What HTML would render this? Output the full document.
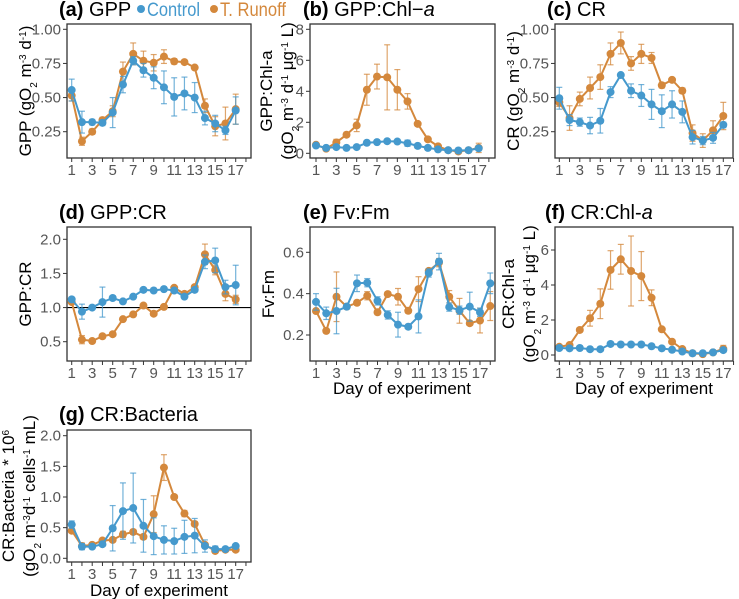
<!DOCTYPE html>
<html><head><meta charset="utf-8">
<style>
html,body{margin:0;padding:0;background:#fff;}
svg{display:block;font-family:"Liberation Sans",Arial,sans-serif;}
.tick{font-size:15px;fill:#555;}
.ttl{font-size:20px;fill:#000;}
.leg{font-size:19px;}
.ax{font-size:17px;fill:#000;}
</style></head>
<body>
<svg id="fig" width="739" height="599" viewBox="0 0 739 599" xmlns="http://www.w3.org/2000/svg">
<g>
<text class="ttl" x="59" y="16"><tspan font-weight="bold">(a)</tspan> GPP</text>
<circle cx="141" cy="9" r="4" fill="#4599cd"/>
<text class="leg" x="147" y="16" textLength="53" lengthAdjust="spacingAndGlyphs" style="fill:#4599cd">Control</text>
<circle cx="214" cy="9" r="4" fill="#d4883c"/>
<text class="leg" x="220" y="16" textLength="66" lengthAdjust="spacingAndGlyphs" style="fill:#d4883c">T. Runoff</text>
<text class="ttl" x="303" y="16"><tspan font-weight="bold">(b)</tspan> GPP:Chl−<tspan font-style="italic">a</tspan></text>
<text class="ttl" x="547" y="16"><tspan font-weight="bold">(c)</tspan> CR</text>
<text class="ttl" x="59" y="219"><tspan font-weight="bold">(d)</tspan> GPP:CR</text>
<text class="ttl" x="303" y="219"><tspan font-weight="bold">(e)</tspan> Fv:Fm</text>
<text class="ttl" x="545" y="219"><tspan font-weight="bold">(f)</tspan> CR:Chl-<tspan font-style="italic">a</tspan></text>
<text class="ttl" x="59" y="421"><tspan font-weight="bold">(g)</tspan> CR:Bacteria</text>
</g>
<g>
<text class="ax" text-anchor="middle" transform="translate(31,91) rotate(-90)">GPP (gO<tspan baseline-shift="sub" font-size="10">2</tspan> m<tspan baseline-shift="super" font-size="10">-3</tspan> d<tspan baseline-shift="super" font-size="10">-1</tspan>)</text>
<text class="ax" text-anchor="middle" transform="translate(272,91) rotate(-90)">GPP:Chl-a</text>
<text class="ax" text-anchor="middle" transform="translate(293,91) rotate(-90)">(gO<tspan baseline-shift="sub" font-size="10">2</tspan> m<tspan baseline-shift="super" font-size="10">-3</tspan> d<tspan baseline-shift="super" font-size="10">-1</tspan> μg<tspan baseline-shift="super" font-size="10">-1</tspan> L)</text>
<text class="ax" text-anchor="middle" transform="translate(519,91) rotate(-90)">CR (gO<tspan baseline-shift="sub" font-size="10">2</tspan> m<tspan baseline-shift="super" font-size="10">-3</tspan> d<tspan baseline-shift="super" font-size="10">-1</tspan>)</text>
<text class="ax" text-anchor="middle" transform="translate(31,294) rotate(-90)">GPP:CR</text>
<text class="ax" text-anchor="middle" transform="translate(274,294) rotate(-90)">Fv:Fm</text>
<text class="ax" text-anchor="middle" transform="translate(514,294) rotate(-90)">CR:Chl-a</text>
<text class="ax" text-anchor="middle" transform="translate(535,294) rotate(-90)">(gO<tspan baseline-shift="sub" font-size="10">2</tspan> m<tspan baseline-shift="super" font-size="10">-3</tspan> d<tspan baseline-shift="super" font-size="10">-1</tspan> μg<tspan baseline-shift="super" font-size="10">-1</tspan> L)</text>
<text class="ax" text-anchor="middle" transform="translate(14,496) rotate(-90)">CR:Bacteria * 10<tspan baseline-shift="super" font-size="10">6</tspan></text>
<text class="ax" text-anchor="middle" transform="translate(35,496) rotate(-90)">(gO<tspan baseline-shift="sub" font-size="10">2</tspan> m<tspan baseline-shift="super" font-size="10">-3</tspan>d<tspan baseline-shift="super" font-size="10">-1</tspan> cells<tspan baseline-shift="super" font-size="10">-1</tspan> mL)</text>
<text class="ax" text-anchor="middle" x="402" y="394">Day of experiment</text>
<text class="ax" text-anchor="middle" x="644" y="394">Day of experiment</text>
<text class="ax" text-anchor="middle" x="159" y="596">Day of experiment</text>
</g>
</svg>
<script>
const xLabels=[1,3,5,7,9,11,13,15,17];
const aCtl=[0.555,0.32,0.32,0.315,0.39,0.595,0.77,0.70,0.645,0.575,0.505,0.53,0.50,0.35,0.31,0.26,0.405];
const aCtlErr=[0.08,0.08,0.02,0.02,0.11,0.06,0.03,0.05,0.08,0.12,0.14,0.12,0.11,0.05,0.06,0.03,0.1];
const aRun=[0.515,0.18,0.25,0.335,0.40,0.69,0.82,0.77,0.755,0.80,0.765,0.76,0.72,0.44,0.29,0.31,0.415];
const aRunErr=[0.04,0.03,0.02,0.02,0.04,0.07,0.08,0.07,0.06,0.05,0.02,0.01,0.01,0.05,0.07,0.12,0.11];
const aTicks=[0.25,0.5,0.75,1.0];
const aTickLbl=["0.25","0.50","0.75","1.00"];
const bCtl=[0.5,0.35,0.4,0.35,0.4,0.68,0.72,0.78,0.76,0.65,0.48,0.35,0.25,0.2,0.18,0.2,0.32];
const bCtlErr=[0.1,0.05,0.1,0.05,0.05,0.1,0.1,0.1,0.1,0.2,0.15,0.1,0.05,0.05,0.05,0.05,0.1];
const bRun=[0.55,0.3,0.7,1.2,1.8,4.1,4.95,4.9,4.1,3.35,1.9,0.9,0.45,0.2,0.12,0.2,0.35];
const bRunErr=[0.1,0.1,0.2,0.15,0.4,1.0,0.8,2.1,1.3,0.5,0.1,0.1,0.1,0.05,0.05,0.05,0.3];
const bTicks=[0,2,4,6,8];
const bTickLbl=["0","2","4","6","8"];
const cCtl=[0.495,0.335,0.32,0.295,0.33,0.54,0.665,0.55,0.515,0.45,0.40,0.45,0.395,0.21,0.185,0.205,0.30];
const cCtlErr=[0.08,0.04,0.03,0.06,0.09,0.04,0.01,0.05,0.08,0.11,0.12,0.1,0.08,0.05,0.03,0.04,0.02];
const cRun=[0.465,0.35,0.49,0.57,0.65,0.82,0.90,0.75,0.82,0.79,0.59,0.63,0.55,0.24,0.185,0.26,0.365];
const cRunErr=[0.03,0.09,0.05,0.08,0.09,0.08,0.08,0.05,0.07,0.04,0.02,0.01,0.02,0.06,0.05,0.07,0.1];
const cTicks=[0.25,0.5,0.75,1.0];
const cTickLbl=["0.25","0.50","0.75","1.00"];
const dCtl=[1.12,0.94,1.0,1.08,1.14,1.09,1.16,1.26,1.25,1.27,1.25,1.16,1.26,1.67,1.69,1.30,1.33];
const dCtlErr=[0.03,0.11,0.02,0.22,0.03,0.02,0.02,0.02,0.02,0.02,0.02,0.02,0.02,0.1,0.18,0.1,0.29];
const dRun=[1.08,0.53,0.51,0.58,0.61,0.83,0.90,1.03,0.91,1.01,1.29,1.20,1.30,1.78,1.55,1.20,1.12];
const dRunErr=[0.02,0.06,0.03,0.02,0.02,0.02,0.02,0.02,0.02,0.02,0.02,0.02,0.02,0.15,0.07,0.1,0.06];
const dTicks=[0.5,1.0,1.5,2.0];
const dTickLbl=["0.5","1.0","1.5","2.0"];
const eCtl=[0.36,0.305,0.316,0.337,0.45,0.453,0.365,0.297,0.25,0.24,0.29,0.50,0.555,0.335,0.32,0.337,0.31,0.45];
const eCtlErr=[0.04,0.03,0.11,0.01,0.04,0.02,0.02,0.02,0.06,0.01,0.08,0.02,0.04,0.02,0.02,0.07,0.02,0.05];
const eRun=[0.316,0.22,0.385,0.337,0.356,0.39,0.31,0.398,0.385,0.317,0.422,0.51,0.55,0.385,0.317,0.257,0.27,0.34];
const eRunErr=[0.01,0.01,0.12,0.01,0.01,0.02,0.01,0.01,0.04,0.01,0.06,0.01,0.02,0.03,0.06,0.01,0.06,0.07];
const eTicks=[0.2,0.4,0.6];
const eTickLbl=["0.2","0.4","0.6"];
const fCtl=[0.4,0.38,0.4,0.33,0.33,0.63,0.6,0.6,0.6,0.5,0.38,0.3,0.2,0.1,0.1,0.15,0.28];
const fCtlErr=[0.1,0.05,0.1,0.05,0.05,0.05,0.05,0.05,0.1,0.1,0.1,0.05,0.05,0.05,0.05,0.05,0.1];
const fRun=[0.47,0.57,1.43,2.1,2.93,4.86,5.47,4.8,4.51,3.27,1.47,0.76,0.34,0.1,0.05,0.15,0.35];
const fRunErr=[0.05,0.05,0.1,0.45,0.85,1.1,0.85,2.0,1.4,0.45,0.1,0.05,0.05,0.05,0.05,0.05,0.2];
const fTicks=[0,2,4,6];
const fTickLbl=["0","2","4","6"];
const gCtl=[0.55,0.19,0.19,0.23,0.49,0.77,0.82,0.53,0.36,0.30,0.28,0.35,0.37,0.20,0.15,0.15,0.20];
const gCtlErr=[0.06,0.05,0.03,0.02,0.37,0.46,0.57,0.43,0.3,0.23,0.21,0.27,0.28,0.1,0.05,0.03,0.03];
const gRun=[0.45,0.20,0.22,0.29,0.30,0.39,0.43,0.35,0.72,1.48,1.00,0.73,0.56,0.22,0.12,0.14,0.14];
const gRunErr=[0.03,0.05,0.03,0.02,0.03,0.05,0.04,0.04,0.3,0.21,0.03,0.05,0.04,0.03,0.03,0.02,0.02];
const gTicks=[0.0,0.5,1.0,1.5,2.0];
const gTickLbl=["0.0","0.5","1.0","1.5","2.0"];

const NS="http://www.w3.org/2000/svg";
const svg=document.getElementById('fig');
const BLUE="#4599cd", ORANGE="#d4883c";
function mk(tag,attrs,parent){const e=document.createElementNS(NS,tag);for(const k in attrs)e.setAttribute(k,attrs[k]);parent.appendChild(e);return e;}

function panel(name,box,xs,ys,ticks,tickLbl,ctl,ctlErr,run,runErr,refLine){
  const g=mk('g',{},svg);
  
  
  const xf=d=>xs[0]+(d-1)*(xs[1]-xs[0])/(xs[2]-1);
  const yf=v=>ys[0]+(v-ys[1])*(ys[2]-ys[0])/(ys[3]-ys[1]);
  for(let i=0;i<ticks.length;i++){
    const y=yf(ticks[i]);
    mk('line',{x1:box[0]-4,x2:box[0],y1:y,y2:y,stroke:'#333','stroke-width':1},g);
    const t=mk('text',{x:box[0]-6,y:y+5,'text-anchor':'end',class:'tick'},g);
    
    
    t.textContent=tickLbl[i];
  }
  for(let d=1;d<=18;d++){
    const x=xf(d);
    mk('line',{x1:x,x2:x,y1:box[3],y2:box[3]+4,stroke:'#333','stroke-width':1},g);
  }
  for(const d of xLabels){
    const t=mk('text',{x:xf(d),y:box[3]+17,'text-anchor':'middle',class:'tick'},g);
    
    
    t.textContent=d;
  }
  if(refLine!==null){mk('line',{x1:box[0],x2:box[2],y1:yf(refLine),y2:yf(refLine),stroke:'#000','stroke-width':1.2},g);}
  const series=[[run,runErr,ORANGE,'runoff'],[ctl,ctlErr,BLUE,'control']];
  for(const [vals,errs,col,sn] of series){
    const sg=mk('g',{},g);
    
    
    for(let i=0;i<vals.length;i++){
      const x=xf(i+1),y1=yf(vals[i]-errs[i]),y2=yf(vals[i]+errs[i]);
      mk('line',{x1:x,x2:x,y1:y1,y2:y2,stroke:col,'stroke-width':1.2,opacity:0.75},sg);
      mk('line',{x1:x-3,x2:x+3,y1:y1,y2:y1,stroke:col,'stroke-width':1.2,opacity:0.75},sg);
      mk('line',{x1:x-3,x2:x+3,y1:y2,y2:y2,stroke:col,'stroke-width':1.2,opacity:0.75},sg);
    }
    const pts=vals.map((v,i)=>xf(i+1)+','+yf(v)).join(' ');
    const pl=mk('polyline',{points:pts,fill:'none',stroke:col,'stroke-width':2},sg);
    
    
    for(let i=0;i<vals.length;i++){
      const c=mk('circle',{cx:xf(i+1),cy:yf(vals[i]),r:4,fill:col},sg);
      
      
    }
  }
  mk('rect',{x:box[0],y:box[1],width:box[2]-box[0],height:box[3]-box[1],fill:'none',stroke:'#333','stroke-width':1.3},g);
}
panel('panel-a',[67,24,251,158],[71.7,235.7,17],[29.3,1.0,131.7,0.25],aTicks,aTickLbl,aCtl,aCtlErr,aRun,aRunErr,null);
panel('panel-b',[310,24,495,158],[316,478.7,17],[29.3,8,153.3,0],bTicks,bTickLbl,bCtl,bCtlErr,bRun,bRunErr,null);
panel('panel-c',[555,24,733,158],[559.3,723.3,17],[29.3,1.0,131.7,0.25],cTicks,cTickLbl,cCtl,cCtlErr,cRun,cRunErr,null);
panel('panel-d',[67,227,251,361],[71.7,235.7,17],[239.3,2.0,341.7,0.5],dTicks,dTickLbl,dCtl,dCtlErr,dRun,dRunErr,1.0);
panel('panel-e',[310,227,495,361],[316,480,17],[252.3,0.6,335,0.2],eTicks,eTickLbl,eCtl,eCtlErr,eRun,eRunErr,null);
panel('panel-f',[555,227,733,361],[559.3,723.3,17],[250,6,355,0],fTicks,fTickLbl,fCtl,fCtlErr,fRun,fRunErr,null);
panel('panel-g',[67,430,251,562],[71.7,235.7,17],[435.7,2.0,558.3,0.0],gTicks,gTickLbl,gCtl,gCtlErr,gRun,gRunErr,null);
</script>
</body></html>
